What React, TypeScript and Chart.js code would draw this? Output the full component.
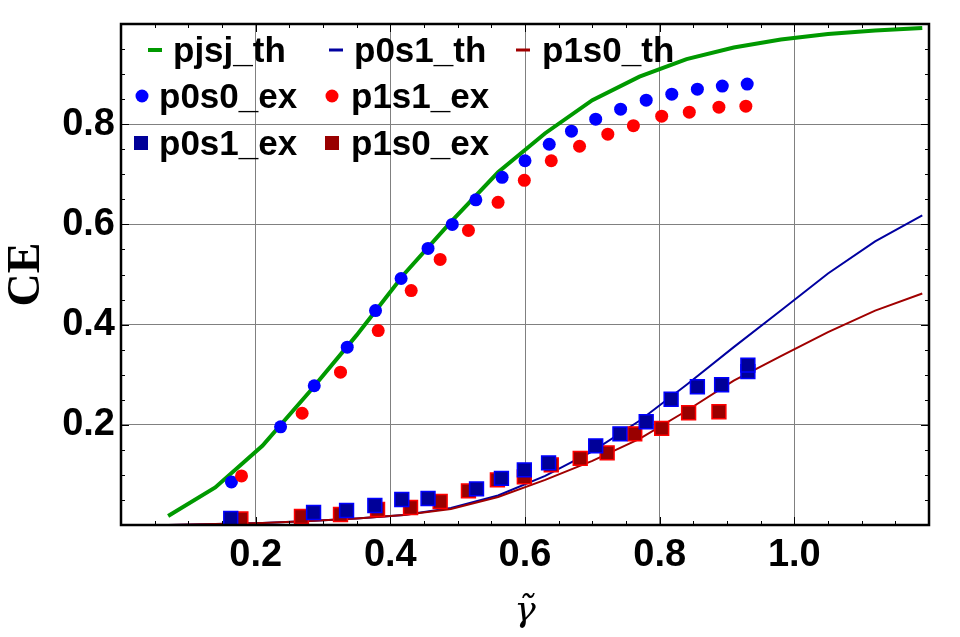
import { useEffect, useRef } from "react";
import { Chart, ChartConfiguration, Plugin, registerables } from "chart.js";

Chart.register(...registerables);

// theory curves, sampled every 0.07
const thX = [0.07, 0.14, 0.21, 0.28, 0.35, 0.42, 0.49, 0.56, 0.63, 0.7, 0.77, 0.84, 0.91, 0.98, 1.05, 1.12, 1.19];
const pjsjTh = [0.018, 0.075, 0.158, 0.266, 0.379, 0.5, 0.605, 0.704, 0.782, 0.848, 0.895, 0.93, 0.953, 0.969, 0.98, 0.987, 0.992];
const p0s1Th = [0.0, 0.002, 0.004, 0.008, 0.013, 0.02, 0.034, 0.059, 0.098, 0.147, 0.208, 0.28, 0.355, 0.428, 0.502, 0.566, 0.618];
const p1s0Th = [0.0, 0.002, 0.004, 0.008, 0.013, 0.02, 0.032, 0.056, 0.09, 0.128, 0.172, 0.228, 0.288, 0.337, 0.385, 0.428, 0.462];

// measured points
const p0s0X = [0.164, 0.237, 0.287, 0.336, 0.378, 0.416, 0.456, 0.492, 0.527, 0.566, 0.6, 0.636, 0.669, 0.705, 0.742, 0.78, 0.818, 0.856, 0.893, 0.93];
const p0s0Y = [0.086, 0.196, 0.278, 0.355, 0.428, 0.492, 0.552, 0.6, 0.649, 0.694, 0.727, 0.76, 0.786, 0.81, 0.83, 0.848, 0.86, 0.87, 0.876, 0.88];

const p1s1X = [0.179, 0.269, 0.326, 0.382, 0.431, 0.474, 0.516, 0.56, 0.599, 0.639, 0.681, 0.723, 0.761, 0.803, 0.844, 0.888, 0.928];
const p1s1Y = [0.098, 0.223, 0.305, 0.388, 0.468, 0.53, 0.588, 0.644, 0.688, 0.727, 0.756, 0.78, 0.797, 0.816, 0.824, 0.834, 0.836];

const p0s1X = [0.163, 0.286, 0.335, 0.377, 0.417, 0.456, 0.528, 0.565, 0.599, 0.635, 0.705, 0.741, 0.78, 0.817, 0.856, 0.892, 0.931, 0.931];
const p0s1Y = [0.013, 0.025, 0.029, 0.039, 0.051, 0.053, 0.072, 0.093, 0.11, 0.124, 0.158, 0.182, 0.206, 0.251, 0.276, 0.28, 0.306, 0.319];

const p1s0X = [0.178, 0.268, 0.326, 0.381, 0.43, 0.474, 0.516, 0.559, 0.599, 0.639, 0.682, 0.722, 0.763, 0.803, 0.843, 0.888];
const p1s0Y = [0.012, 0.017, 0.021, 0.031, 0.035, 0.047, 0.068, 0.09, 0.096, 0.12, 0.133, 0.144, 0.182, 0.193, 0.224, 0.226];

const xTicks = [0.2, 0.4, 0.6, 0.8, 1.0];
const yTicks = [0.2, 0.4, 0.6, 0.8];
const xMinor = [0.05, 0.1, 0.15, 0.2, 0.25, 0.3, 0.35, 0.4, 0.45, 0.5, 0.55, 0.6, 0.65, 0.7, 0.75, 0.8, 0.85, 0.9, 0.95, 1.0, 1.05, 1.1, 1.15];
const yMinor = [0.05, 0.1, 0.15, 0.2, 0.25, 0.3, 0.35, 0.4, 0.45, 0.5, 0.55, 0.6, 0.65, 0.7, 0.75, 0.8, 0.85, 0.9, 0.95];

const pts = (xs: number[], ys: number[]) => xs.map((x, i) => ({ x, y: ys[i] }));

const SANS = '"Liberation Sans", Arial, sans-serif';
const SERIF = '"Liberation Serif", "Times New Roman", serif';

// frame on all four sides + inward ticks, like Mathematica's Frame
const framePlugin: Plugin = {
  id: "frame",
  afterDraw(chart) {
    const { ctx, chartArea: a, scales } = chart;
    const xs = scales["x"];
    const ys = scales["y"];
    ctx.save();
    ctx.strokeStyle = "#000";
    ctx.lineWidth = 1;
    ctx.beginPath();
    xMinor.forEach(v => {
      const px = Math.round(xs.getPixelForValue(v)) + 0.5;
      const len = xTicks.some(t => Math.abs(t - v) < 1e-6) ? 8 : 4;
      ctx.moveTo(px, a.bottom);
      ctx.lineTo(px, a.bottom - len);
      ctx.moveTo(px, a.top);
      ctx.lineTo(px, a.top + len);
    });
    yMinor.forEach(v => {
      const py = Math.round(ys.getPixelForValue(v)) + 0.5;
      const len = yTicks.some(t => Math.abs(t - v) < 1e-6) ? 8 : 4;
      ctx.moveTo(a.left, py);
      ctx.lineTo(a.left + len, py);
      ctx.moveTo(a.right, py);
      ctx.lineTo(a.right - len, py);
    });
    ctx.stroke();
    ctx.lineWidth = 2.5;
    ctx.strokeRect(a.left, a.top, a.right - a.left, a.bottom - a.top);
    ctx.restore();
  },
};

// legend drawn inside the plot, three rows
const legendSlots = [
  { sx: 155, tx: 173, y: 62 },
  { sx: 336, tx: 354, y: 62 },
  { sx: 523, tx: 542, y: 62 },
  { sx: 142, tx: 159, y: 108 },
  { sx: 332, tx: 351, y: 108 },
  { sx: 141, tx: 159, y: 155 },
  { sx: 332, tx: 351, y: 155 },
];

const legendPlugin: Plugin = {
  id: "insideLegend",
  afterDraw(chart) {
    const { ctx } = chart;
    ctx.save();
    ctx.font = `bold 35px ${SANS}`;
    ctx.textBaseline = "alphabetic";
    ctx.textAlign = "left";
    chart.data.datasets.forEach((ds: any, i) => {
      const s = legendSlots[i];
      if (!s) return;
      const cy = s.y - 12;
      if (ds.showLine !== false) {
        ctx.fillStyle = ds.borderColor;
        const h = ds.borderWidth >= 3 ? 4 : 3;
        ctx.fillRect(s.sx - 7, cy - h / 2, 14, h);
      } else if (ds.pointStyle === "rect") {
        ctx.fillStyle = ds.backgroundColor;
        ctx.fillRect(s.sx - 7, cy - 7, 14, 14);
      } else {
        ctx.fillStyle = ds.backgroundColor;
        ctx.beginPath();
        ctx.arc(s.sx, cy, 6.5, 0, Math.PI * 2);
        ctx.fill();
      }
      ctx.fillStyle = "#000";
      ctx.fillText(ds.label, s.tx, s.y);
    });
    ctx.restore();
  },
};

const lineSet = (label: string, ys: number[], color: string, width: number, order: number) => ({
  label,
  data: pts(thX, ys),
  borderColor: color,
  backgroundColor: color,
  borderWidth: width,
  pointRadius: 0,
  showLine: true,
  fill: false,
  tension: 0,
  order,
});

const App = () => {
  const canvasRef = useRef<HTMLCanvasElement | null>(null);

  useEffect(() => {
    if (!canvasRef.current) return;

    const config: ChartConfiguration = {
      type: "line",
      data: {
        datasets: [
          lineSet("pjsj_th", pjsjTh, "#009900", 4, 7),
          lineSet("p0s1_th", p0s1Th, "#0000a0", 2, 6),
          lineSet("p1s0_th", p1s0Th, "#a00000", 2, 5),
          {
            label: "p0s0_ex",
            data: pts(p0s0X, p0s0Y),
            showLine: false,
            pointStyle: "circle",
            pointRadius: 6.5,
            pointBorderWidth: 0,
            backgroundColor: "#0000ff",
            borderColor: "#0000ff",
            order: 3,
          },
          {
            label: "p1s1_ex",
            data: pts(p1s1X, p1s1Y),
            showLine: false,
            pointStyle: "circle",
            pointRadius: 6.5,
            pointBorderWidth: 0,
            backgroundColor: "#ff0000",
            borderColor: "#ff0000",
            order: 2,
          },
          {
            label: "p0s1_ex",
            data: pts(p0s1X, p0s1Y),
            showLine: false,
            pointStyle: "rect",
            pointRadius: 9.8,
            pointBorderWidth: 1.5,
            backgroundColor: "#000099",
            borderColor: "#0000ff",
            order: 0,
          },
          {
            label: "p1s0_ex",
            data: pts(p1s0X, p1s0Y),
            showLine: false,
            pointStyle: "rect",
            pointRadius: 9.8,
            pointBorderWidth: 1.5,
            backgroundColor: "#990000",
            borderColor: "#ff0000",
            order: 1,
          },
        ] as any,
      },
      plugins: [framePlugin, legendPlugin],
      options: {
        responsive: false,
        animation: false,
        devicePixelRatio: 1,
        layout: { padding: { left: 0, right: 31, top: 24, bottom: 0 } },
        plugins: {
          legend: { display: false },
          tooltip: { enabled: false },
        },
        scales: {
          x: {
            type: "linear",
            min: 0,
            max: 1.2,
            afterBuildTicks: scale => {
              scale.ticks = xTicks.map(value => ({ value }));
            },
            afterFit: scale => {
              scale.height = 112;
            },
            ticks: {
              color: "#000",
              padding: 8,
              font: { family: SANS, size: 38, weight: "bold" },
              callback: value => Number(value).toFixed(1),
            },
            grid: { color: "#808080", lineWidth: 1, drawTicks: false },
            border: { display: true, color: "#000", width: 2 },
            title: {
              display: true,
              text: "γ\u0303",
              color: "#000",
              padding: { top: 0, bottom: 4 },
              font: { family: '"DejaVu Serif", serif', size: 36, style: "italic" },
            },
          },
          y: {
            type: "linear",
            min: 0,
            max: 1.0,
            afterBuildTicks: scale => {
              scale.ticks = yTicks.map(value => ({ value }));
            },
            afterFit: scale => {
              scale.width = 121;
              scale.paddingTop = 0;
              scale.paddingBottom = 0;
            },
            ticks: {
              color: "#000",
              padding: 6,
              font: { family: SANS, size: 38, weight: "bold", lineHeight: 0.5 },
              callback: value => Number(value).toFixed(1),
            },
            grid: { color: "#808080", lineWidth: 1, drawTicks: false },
            border: { display: true, color: "#000", width: 2 },
            title: {
              display: true,
              text: "CE",
              color: "#000",
              padding: { top: 0, bottom: 0 },
              font: { family: SERIF, size: 46, weight: "bold" },
            },
          },
        },
      },
    };

    const chart = new Chart(canvasRef.current, config);
    return () => {
      chart.destroy();
    };
  }, []);

  return (
    <div style={{ position: "absolute", left: 0, top: 0, width: 960, height: 637, background: "#fff" }}>
      <canvas ref={canvasRef} width={960} height={637} />
    </div>
  );
};

export default App;
